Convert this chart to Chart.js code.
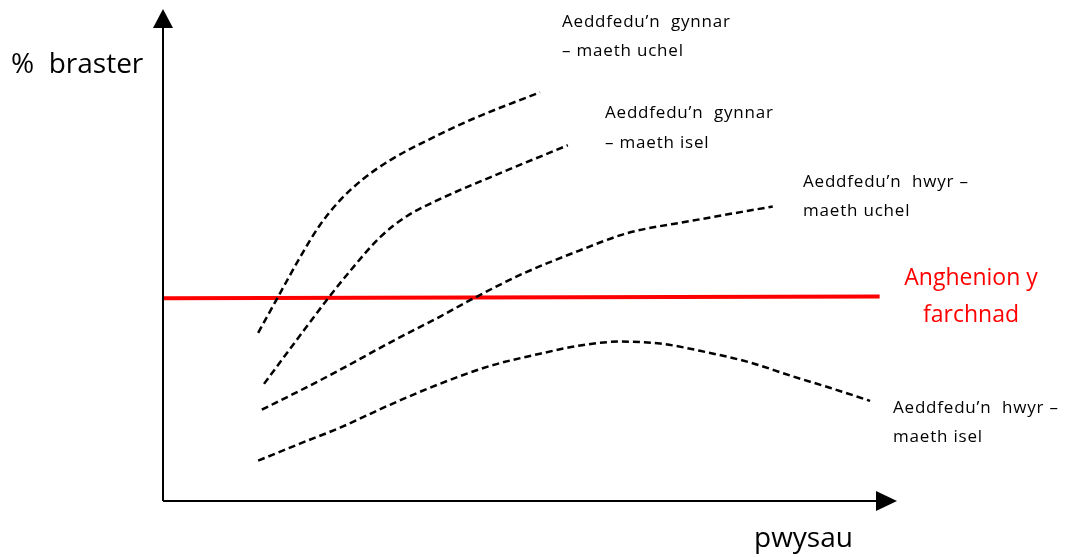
<!DOCTYPE html>
<html>
<head>
<meta charset="utf-8">
<script src="https://cdn.jsdelivr.net/npm/chart.js@4/dist/chart.umd.min.js"></script>
<style>
html,body{margin:0;padding:0;background:#fff;}
#wrap{width:1071px;height:557px;position:relative;}
</style>
</head>
<body>
<div id="wrap"><canvas id="c" width="1071" height="557"></canvas></div>
<script>
// Values (x = pwysau, y = % braster, arbitrary units 0-100)
const earlyHighX = [13.0, 15.9, 18.7, 21.4, 24.2, 27.3, 31.0, 36.1, 42.3, 51.5];
const earlyHighY = [34.6, 42.5, 50.1, 56.7, 61.9, 66.2, 70.1, 74.2, 78.6, 84.1];
const earlyLowX  = [13.8, 18.2, 22.5, 25.6, 29.6, 33.3, 37.8, 44.7, 55.3];
const earlyLowY  = [24.1, 33.0, 41.6, 47.4, 54.2, 58.6, 62.1, 66.6, 73.2];
const lateHighX  = [13.5, 18.7, 24.2, 31.0, 37.8, 42.3, 49.2, 57.0, 63.4, 72.4, 83.3];
const lateHighY  = [18.8, 22.7, 27.0, 32.6, 37.9, 41.6, 46.8, 51.6, 55.1, 57.7, 60.6];
const lateLowX   = [13.0, 18.7, 24.2, 31.0, 37.8, 44.7, 51.5, 57.0, 62.4, 67.9, 74.3, 80.2, 85.7, 91.1, 96.6];
const lateLowY   = [8.3, 11.8, 15.1, 19.8, 24.1, 27.8, 30.3, 32.0, 32.8, 32.4, 30.6, 28.5, 25.8, 23.3, 20.6];
const marketX    = [0, 97.9];
const marketY    = [41.7, 42.1];

const seriesNames = [
  "Aeddfedu’n gynnar – maeth uchel",
  "Aeddfedu’n gynnar – maeth isel",
  "Aeddfedu’n hwyr – maeth uchel",
  "Aeddfedu’n hwyr – maeth isel",
  "Anghenion y farchnad"
];
const yTitle = "%  braster";
const xTitle = "pwysau";

function pts(xs, ys){ return xs.map((x,i)=>({x:x, y:ys[i]})); }

const dashed = {borderColor:'#000', borderWidth:2.5, borderDash:[7,4], pointRadius:0, fill:false, cubicInterpolationMode:'monotone'};

const FONT = '"Open Sans", Lato, sans-serif';

const decor = {
  id:'decor',
  afterDraw(chart){
    const ctx = chart.ctx;
    const a = chart.chartArea;
    ctx.save();
    // axes
    ctx.strokeStyle = '#000';
    ctx.fillStyle = '#000';
    ctx.lineWidth = 2;
    ctx.beginPath();
    ctx.moveTo(a.left, a.bottom);
    ctx.lineTo(a.left, 26);
    ctx.moveTo(a.left, a.bottom);
    ctx.lineTo(878, a.bottom);
    ctx.stroke();
    // arrow heads
    ctx.beginPath();
    ctx.moveTo(a.left, 9);
    ctx.lineTo(a.left - 10, 28);
    ctx.lineTo(a.left + 10, 28);
    ctx.closePath();
    ctx.fill();
    ctx.beginPath();
    ctx.moveTo(897, a.bottom);
    ctx.lineTo(876, a.bottom - 10);
    ctx.lineTo(876, a.bottom + 10);
    ctx.closePath();
    ctx.fill();

    // titles
    ctx.textBaseline = 'alphabetic';
    ctx.textAlign = 'left';
    ctx.font = '28px ' + FONT;
    ctx.fillText(yTitle, 11, 73);
    ctx.fillText(xTitle, 754, 547);

    // curve labels
    ctx.font = '17px ' + FONT;
    try { ctx.letterSpacing = '0.8px'; } catch(e) {}
    const lab = [
      ["Aeddfedu’n  gynnar", 562, 27], ["– maeth uchel", 562, 56],
      ["Aeddfedu’n  gynnar", 605, 118], ["– maeth isel", 605, 148],
      ["Aeddfedu’n  hwyr –", 803, 187], ["maeth uchel", 803, 216],
      ["Aeddfedu’n  hwyr –", 893, 413], ["maeth isel", 893, 442]
    ];
    lab.forEach(l => ctx.fillText(l[0], l[1], l[2]));
    try { ctx.letterSpacing = '0px'; } catch(e) {}

    ctx.fillStyle = '#ff0000';
    ctx.font = '23px ' + FONT;
    ctx.textAlign = 'center';
    ctx.fillText("Anghenion y", 971, 285);
    ctx.fillText("farchnad", 971, 322);
    ctx.restore();
  }
};

new Chart(document.getElementById('c'), {
  type:'line',
  data:{
    datasets:[
      Object.assign({label:seriesNames[0], data:pts(earlyHighX, earlyHighY)}, dashed),
      Object.assign({label:seriesNames[1], data:pts(earlyLowX, earlyLowY)}, dashed),
      Object.assign({label:seriesNames[2], data:pts(lateHighX, lateHighY)}, dashed),
      Object.assign({label:seriesNames[3], data:pts(lateLowX, lateLowY)}, dashed),
      {label:seriesNames[4], data:pts(marketX, marketY), borderColor:'#ff0000', borderWidth:4, pointRadius:0, fill:false, tension:0}
    ]
  },
  options:{
    responsive:false,
    animation:false,
    events:[],
    layout:{padding:{left:163, right:176, top:15, bottom:56}},
    plugins:{legend:{display:false}, tooltip:{enabled:false}, title:{display:false}},
    scales:{
      x:{type:'linear', min:0, max:100, display:false},
      y:{type:'linear', min:0, max:100, display:false}
    }
  },
  plugins:[decor]
});
</script>
</body>
</html>
